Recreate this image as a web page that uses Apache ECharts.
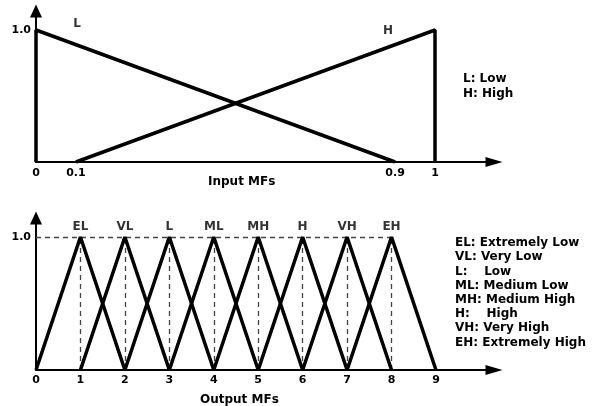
<!DOCTYPE html>
<html>
<head>
<meta charset="utf-8">
<script src="https://cdn.jsdelivr.net/npm/echarts@6/dist/echarts.min.js"></script>
<style>html,body{margin:0;padding:0;background:#fff}#c{width:600px;height:406px}</style>
</head>
<body>
<div id="c"></div>
<script>
// ---- data ----
var inputTicks = [0, 0.1, 0.9, 1];
var inputLow = [[0, 0], [0, 1], [0.9, 0]];
var inputHigh = [[0.1, 0], [1, 1], [1, 0]];
var inputLabels = ['L', 'H'];
var inputLabelPoints = [[0, 1], [1, 1]];
var inputLegend = ['L: Low', 'H: High'];

var outputNames = ['EL', 'VL', 'L', 'ML', 'MH', 'H', 'VH', 'EH'];
var outputPeaks = [1, 2, 3, 4, 5, 6, 7, 8];
var outputTicks = [0, 1, 2, 3, 4, 5, 6, 7, 8, 9];
var outputLegend = ['EL: Extremely Low', 'VL: Very Low', 'L:    Low', 'ML: Medium Low',
  'MH: Medium High', 'H:    High', 'VH: Very High', 'EH: Extremely High'];

// ---- chart ----
var FONT = 'DejaVu Sans';
var chart = echarts.init(document.getElementById('c'), null, {renderer: 'canvas'});

function axisX(idx, max, ticks, margin) {
  return {
    type: 'value', gridIndex: idx, min: 0, max: max,
    splitLine: {show: false}, axisTick: {show: false},
    axisLine: {show: true, lineStyle: {color: '#000', width: 2}, symbol: ['none', 'triangle'], symbolSize: [10, 17]},
    axisLabel: {show: true, customValues: ticks, margin: margin, color: '#000', fontFamily: FONT, fontWeight: 'bold', fontSize: 11,
      formatter: function (v) { return String(v); }}
  };
}
function axisY(idx, max) {
  return {
    type: 'value', gridIndex: idx, min: 0, max: max,
    splitLine: {show: false}, axisTick: {show: false},
    axisLine: {show: true, lineStyle: {color: '#000', width: 2}, symbol: ['none', 'triangle'], symbolSize: [12, 13]},
    axisLabel: {show: true, customValues: [1], margin: 5, color: '#000', fontFamily: FONT, fontWeight: 'bold', fontSize: 11,
      formatter: function (v) { return v.toFixed(1); }}
  };
}

var series = [];
series.push({type: 'line', xAxisIndex: 0, yAxisIndex: 0, data: inputLow, symbol: 'none', lineStyle: {color: '#000', width: 3.5}, z: 3});
series.push({type: 'line', xAxisIndex: 0, yAxisIndex: 0, data: inputHigh, symbol: 'none', lineStyle: {color: '#000', width: 3.5}, z: 3});
var inputOffsets = [[41, -6], [-47, 1]];
series.push({type: 'scatter', xAxisIndex: 0, yAxisIndex: 0, symbolSize: 1, itemStyle: {color: 'rgba(0,0,0,0)'},
  data: inputLabels.map(function (n, i) {
    return {name: n, value: inputLabelPoints[i], label: {show: true, position: 'inside', offset: inputOffsets[i], formatter: n,
      color: '#000', fontFamily: FONT, fontWeight: 'bold', fontSize: 12}};
  }), z: 5});

// dashed guides (bottom)
var guideLines = outputPeaks.map(function (p) { return [{coord: [p, 0]}, {coord: [p, 1]}]; });
guideLines.push([{coord: [0, 1]}, {coord: [outputPeaks[outputPeaks.length - 1], 1]}]);
outputPeaks.forEach(function (p, i) {
  series.push({type: 'line', xAxisIndex: 1, yAxisIndex: 1, name: outputNames[i],
    data: [[p - 1, 0], [p, 1], [p + 1, 0]], symbol: 'none', lineStyle: {color: '#000', width: 3.5}, z: 3,
    markLine: i === 0 ? {silent: true, symbol: ['none', 'none'], label: {show: false},
      lineStyle: {color: '#444', width: 1.3, type: [5, 4]}, data: guideLines, z: 1} : undefined});
});
series.push({type: 'scatter', xAxisIndex: 1, yAxisIndex: 1, symbolSize: 1, itemStyle: {color: 'rgba(0,0,0,0)'},
  data: outputNames.map(function (n, i) { return {name: n, value: [outputPeaks[i], 1]}; }),
  label: {show: true, position: 'top', distance: 4, formatter: '{b}', color: '#000', fontFamily: FONT, fontWeight: 'bold', fontSize: 12},
  z: 5});

var graphics = [];
graphics.push({type: 'text', left: 241 - 33, top: 176, style: {text: 'Input MFs', fill: '#000', font: 'bold 12px "DejaVu Sans"'}});
graphics.push({type: 'text', left: 240 - 40, top: 394, style: {text: 'Output MFs', fill: '#000', font: 'bold 12px "DejaVu Sans"'}});
inputLegend.forEach(function (t, i) {
  graphics.push({type: 'text', left: 463, top: 73 + i * 15, style: {text: t, fill: '#000', font: 'bold 12px "DejaVu Sans"'}});
});
outputLegend.forEach(function (t, i) {
  graphics.push({type: 'text', left: 455, top: 237 + i * 14.2, style: {text: t, fill: '#000', font: 'bold 12px "DejaVu Sans"'}});
});

chart.setOption({
  animation: false,
  backgroundColor: '#fff',
  grid: [
    {left: 36, top: 11, width: 458, height: 151},
    {left: 36, top: 218, width: 458, height: 152}
  ],
  xAxis: [axisX(0, 458 / 399, inputTicks, 6), axisX(1, 458 / 44.44, outputTicks, 5)],
  yAxis: [axisY(0, 151 / 132), axisY(1, 152 / 133)],
  series: series,
  graphic: graphics
});
</script>
</body>
</html>
